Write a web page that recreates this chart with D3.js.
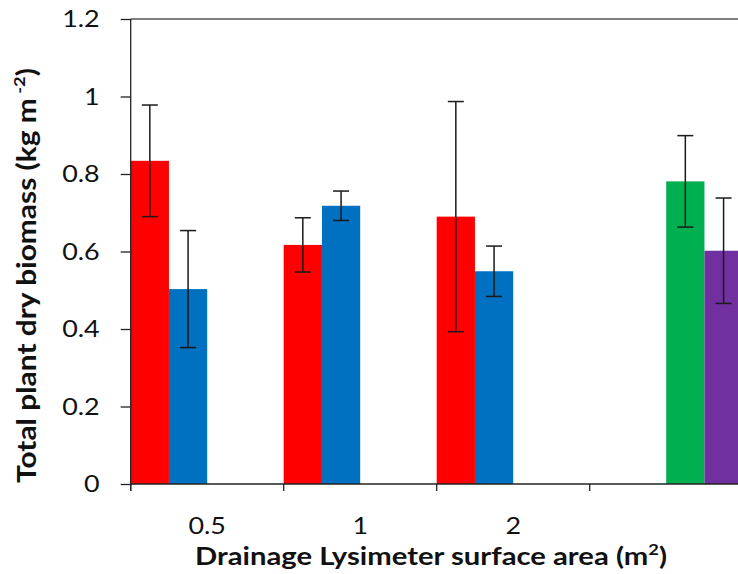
<!DOCTYPE html>
<html>
<head>
<meta charset="utf-8">
<script src="https://cdn.jsdelivr.net/npm/d3@7"></script>
<style>
  html, body { margin: 0; padding: 0; background: #fff; overflow: hidden; }
  svg { display: block; font-family: Lato, "Open Sans", sans-serif; }
</style>
</head>
<body>
<svg id="chart" width="738" height="574"></svg>
<script>
// Category labels along the x axis (the fourth group has no label)
const categories = ["0.5", "1", "2", ""];

// Four series; each only has values in some groups
const seriesNames = ["s1", "s2", "s3", "s4"];
const seriesColors = ["#FF0000", "#0070C0", "#00B050", "#7030A0"];
const s1Values = [0.834, 0.617, 0.690, null];
const s1Errors = [0.144, 0.070, 0.297, null];
const s2Values = [0.503, 0.718, 0.549, null];
const s2Errors = [0.151, 0.038, 0.065, null];
const s3Values = [null, null, null, 0.781];
const s3Errors = [null, null, null, 0.118];
const s4Values = [null, null, null, 0.602];
const s4Errors = [null, null, null, 0.136];

const yTicks = [0, 0.2, 0.4, 0.6, 0.8, 1, 1.2];

const allValues = [s1Values, s2Values, s3Values, s4Values];
const allErrors = [s1Errors, s2Errors, s3Errors, s4Errors];

// Flatten into one record per bar
const bars = [];
categories.forEach((c, ci) => {
  seriesNames.forEach((s, si) => {
    const v = allValues[si][ci];
    if (v !== null) bars.push({ cat: ci, series: s, si, value: v, err: allErrors[si][ci] });
  });
});

const svg = d3.select("#chart");
const margin = { left: 130.7, top: 19, bottom: 484 };
const plotRight = margin.left + 153 * categories.length;
const labelStretch = 1.12;

const x = d3.scaleBand()
  .domain(d3.range(categories.length))
  .range([margin.left, plotRight])
  .padding(0);

const xInner = d3.scaleBand()
  .domain(seriesNames)
  .range([0, x.bandwidth()])
  .padding(0);

const y = d3.scaleLinear()
  .domain([0, 1.2])
  .range([margin.bottom, margin.top]);

// Top border line at the axis maximum
svg.append("line")
  .attr("x1", margin.left).attr("x2", plotRight)
  .attr("y1", y(1.2)).attr("y2", y(1.2))
  .attr("stroke", "#555").attr("stroke-width", 1.3);

// Bars
svg.append("g").selectAll("rect")
  .data(bars)
  .join("rect")
  .attr("x", d => x(d.cat) + xInner(d.series))
  .attr("width", xInner.bandwidth())
  .attr("y", d => y(d.value))
  .attr("height", d => y(0) - y(d.value))
  .attr("fill", d => seriesColors[d.si]);

// Error bars
const capHalf = 8;
const eb = svg.append("g").attr("stroke", "#1a1a1a").attr("stroke-width", 1.5);
bars.forEach(d => {
  const cx = x(d.cat) + xInner(d.series) + xInner.bandwidth() / 2;
  const top = y(d.value + d.err), bot = y(d.value - d.err);
  eb.append("line").attr("x1", cx).attr("x2", cx).attr("y1", top).attr("y2", bot);
  eb.append("line").attr("x1", cx - capHalf).attr("x2", cx + capHalf).attr("y1", top).attr("y2", top);
  eb.append("line").attr("x1", cx - capHalf).attr("x2", cx + capHalf).attr("y1", bot).attr("y2", bot);
});

// Y axis
const yAxis = svg.append("g")
  .attr("transform", `translate(${margin.left},0)`)
  .call(d3.axisLeft(y).tickValues(yTicks).tickSize(10).tickPadding(20)
    .tickFormat(d => d3.format("")(+d.toFixed(1))));
yAxis.select(".domain").attr("stroke", "#222").attr("stroke-width", 1.3).attr("d", `M0,${margin.top}V${margin.bottom + 7}`);
yAxis.selectAll(".tick line").attr("stroke", "#222").attr("stroke-width", 1.3);
yAxis.selectAll(".tick text")
  .attr("font-size", 24).attr("fill", "#111").attr("font-family", "Lato, sans-serif")
  .attr("x", 0)
  .attr("transform", `translate(-31,0) scale(${labelStretch},1)`);

// X axis: ticks at category boundaries, labels at category centres
const xAxisG = svg.append("g").attr("transform", `translate(0,${margin.bottom})`);
xAxisG.append("line")
  .attr("x1", margin.left).attr("x2", plotRight)
  .attr("stroke", "#222").attr("stroke-width", 1.3);
xAxisG.selectAll("line.tk")
  .data(d3.range(categories.length + 1))
  .join("line").attr("class", "tk")
  .attr("x1", i => i < categories.length ? x(i) : plotRight)
  .attr("x2", i => i < categories.length ? x(i) : plotRight)
  .attr("y1", 0).attr("y2", 7)
  .attr("stroke", "#222").attr("stroke-width", 1.3);
xAxisG.selectAll("text")
  .data(categories)
  .join("text")
  .attr("transform", (d, i) => `translate(${x(i) + x.bandwidth() / 2},50) scale(${labelStretch},1)`)
  .attr("text-anchor", "middle")
  .attr("font-size", 24)
  .attr("fill", "#111")
  .text(d => d);

// Stretch a title along its reading direction to a target length
function fitLength(sel, target, base) {
  const w = sel.node().getComputedTextLength ? sel.node().getBBox().width : target;
  const s = w > 0 ? target / w : 1;
  sel.attr("transform", `${base} scale(${s},1)`);
}

// Axis titles
const xt = svg.append("text")
  .attr("text-anchor", "middle")
  .attr("font-size", 24).attr("font-weight", "bold").attr("fill", "#111");
xt.append("tspan").text("Drainage Lysimeter surface area (m");
xt.append("tspan").attr("font-size", 15).attr("dy", -10).text("2");
xt.append("tspan").attr("dy", 10).text(")");
fitLength(xt, 472, "translate(431,565)");

const yt = svg.append("text")
  .attr("text-anchor", "middle")
  .attr("font-size", 26).attr("font-weight", "bold").attr("fill", "#111");
yt.append("tspan").text("Total plant dry biomass (kg m");
yt.append("tspan").attr("font-size", 16).attr("dy", -11).text(" -2");
yt.append("tspan").attr("dy", 11).text(")");
fitLength(yt, 415, "translate(36,275.5) rotate(-90)");
</script>
</body>
</html>
